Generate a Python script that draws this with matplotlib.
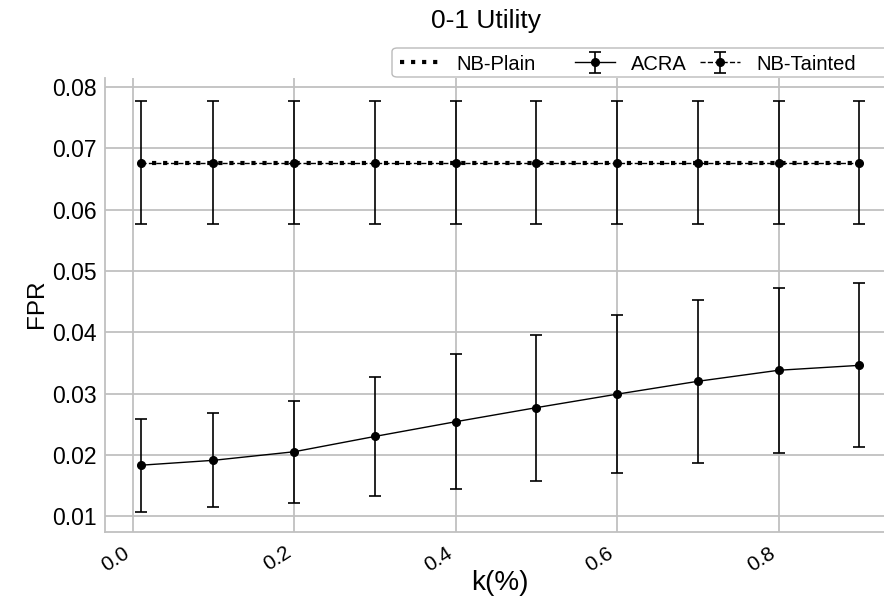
import matplotlib
matplotlib.use("Agg")
import matplotlib.pyplot as plt
from matplotlib.patches import FancyBboxPatch
import numpy as np

k = [0.01, 0.1, 0.2, 0.3, 0.4, 0.5, 0.6, 0.7, 0.8, 0.9]
acra_mean = [0.0183, 0.0191, 0.0205, 0.0230, 0.0254, 0.0277, 0.0299, 0.0320, 0.0338, 0.0346]
acra_err = [0.0076, 0.0077, 0.0083, 0.0097, 0.0110, 0.0119, 0.0129, 0.0133, 0.0135, 0.0134]
nb_mean = [0.0677] * 10
nb_err = [0.0101] * 10
xticks = [0.0, 0.2, 0.4, 0.6, 0.8]
yticks = [0.01, 0.02, 0.03, 0.04, 0.05, 0.06, 0.07, 0.08]

plt.rcParams['font.family'] = ['Liberation Sans', 'DejaVu Sans']

W, H = 884, 598
fig = plt.figure(figsize=(W/100, H/100), dpi=100)
ax_left, ax_right, ax_top, ax_bot = 105, 895, 78, 532
ax = fig.add_axes([ax_left/W, 1-ax_bot/H, (ax_right-ax_left)/W, (ax_bot-ax_top)/H])

ax.plot(k, nb_mean, linestyle=':', color='black', linewidth=3, label='NB-Plain')
ax.errorbar(k, acra_mean, yerr=acra_err, color='black', marker='o', markersize=5.5,
            linewidth=1, capsize=4, elinewidth=1.2, capthick=1.2, label='ACRA')
ax.errorbar(k, nb_mean, yerr=nb_err, color='black', marker='o', markersize=5.5,
            linewidth=1, linestyle='--', capsize=4, elinewidth=1.2, capthick=1.2,
            label='NB-Tainted')

ax.set_xlim(-0.0343, 0.944)
ax.set_ylim(0.0074, 0.0815)
ax.set_xticks(xticks)
ax.set_yticks(yticks)
ax.set_xticklabels([f"{t:.1f}" for t in xticks], rotation=33, ha='right', fontsize=15)
ax.set_yticklabels([f"{t:.2f}" for t in yticks], fontsize=16.5)
ax.tick_params(axis='y', length=0, pad=6)
ax.tick_params(axis='x', length=0, pad=8)
ax.grid(True, color='#c0c0c0', linewidth=1.3)
ax.set_axisbelow(True)
for s in ['top', 'right']:
    ax.spines[s].set_visible(False)
for s in ['left', 'bottom']:
    ax.spines[s].set_color('#c0c0c0')
    ax.spines[s].set_linewidth(1.3)

ax.set_xlabel('k(%)', fontsize=20)
ax.xaxis.set_label_coords(0.5, -(583-ax_bot)/(ax_bot-ax_top))
ax.xaxis.label.set_va('center')
ax.set_ylabel('FPR', fontsize=17.5)
ax.yaxis.set_label_coords(-(105-37)/(ax_right-ax_left), (ax_bot-304)/(ax_bot-ax_top))
ax.yaxis.label.set_va('center')
fig.text(486/W, 1-21/H, '0-1 Utility', ha='center', va='center', fontsize=19)

# legend: frame + three entries placed at their positions
frame = FancyBboxPatch((392/W, 1-77/H), (910-392)/W, (77-48)/H,
                       boxstyle='round,pad=0,rounding_size=0.006',
                       transform=fig.transFigure, facecolor='white',
                       edgecolor='#bbbbbb', linewidth=1.0, zorder=5)
fig.patches.append(frame)
handles, labels = ax.get_legend_handles_labels()
handle_x = [400, 575, 700]
for h, l, hx in zip(handles, labels, handle_x):
    lg = fig.legend([h], [l], loc='center left', bbox_to_anchor=(hx/W, 1-64/H),
                    fontsize=14.5, frameon=False, handlelength=2.0,
                    handletextpad=0.8, borderpad=0, borderaxespad=0)
    lg.set_zorder(6)

fig.savefig('out.png', dpi=100)
